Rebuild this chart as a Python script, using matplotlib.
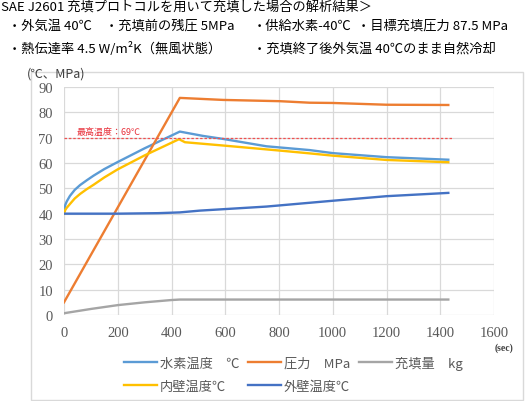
import matplotlib
import matplotlib.pyplot as plt
from matplotlib.patches import Rectangle

matplotlib.use("Agg")

JP = ["Noto Sans CJK JP", "DejaVu Sans"]
SERIF = ["Liberation Serif", "DejaVu Serif"]

# hydrogen gas temperature (degC)
t_h2 = [0, 5, 10, 22, 40, 60, 85, 110, 150, 200, 300, 431, 517, 592, 753, 914, 1000, 1200, 1430]
h2_temp = [41.0, 43.5, 44.8, 47.0, 49.4, 51.3, 53.2, 55.0, 57.6, 60.4, 65.8, 72.4, 70.7, 69.5, 66.6, 65.1, 63.9, 62.3, 61.3]

# pressure (MPa)
t_pres = [0, 431, 592, 803, 914, 1000, 1200, 1430]
pressure = [5.0, 85.7, 84.9, 84.4, 83.8, 83.7, 83.0, 82.9]

# filled amount (kg)
t_fill = [0, 101, 200, 300, 399, 431, 1430]
filled = [0.7, 2.4, 3.9, 5.0, 5.9, 6.1, 6.1]

# inner wall temperature (degC)
t_inner = [0, 5, 10, 22, 40, 60, 85, 110, 150, 200, 300, 428, 450, 592, 803, 914, 1000, 1200, 1430]
inner_wall = [40.0, 41.5, 42.3, 43.8, 46.0, 47.8, 49.7, 51.4, 54.3, 57.5, 63.0, 69.4, 68.2, 66.9, 64.9, 63.8, 62.9, 61.2, 60.3]

# outer wall temperature (degC)
t_outer = [0, 200, 350, 431, 505, 753, 1000, 1200, 1430]
outer_wall = [40.0, 40.0, 40.2, 40.5, 41.2, 42.8, 45.1, 46.9, 48.2]

max_temp = 69.8
max_temp_label = "最高温度：69℃"

fig = plt.figure(figsize=(5.3, 4.02), dpi=100)

# chart frame
fig.patches.append(Rectangle((31 / 530, 1 / 402), 492 / 530, 328 / 402, transform=fig.transFigure,
                             fill=False, edgecolor="#D9D9D9", linewidth=1.0))

ax = fig.add_axes([64 / 530, 1 - 316 / 402, 430 / 530, 228 / 402])

l1, = ax.plot(t_h2, h2_temp, color="#5B9BD5", lw=1.7, label="水素温度　℃")
l2, = ax.plot(t_pres, pressure, color="#ED7D31", lw=1.7, label="圧力　MPa")
l3, = ax.plot(t_fill, filled, color="#A5A5A5", lw=1.7, label="充填量　kg")
l4, = ax.plot(t_inner, inner_wall, color="#FFC000", lw=1.7, label="内壁温度℃")
l5, = ax.plot(t_outer, outer_wall, color="#4472C4", lw=1.7, label="外壁温度℃")

ax.plot([0, 1445], [max_temp, max_temp], color="#F05050", lw=0.9, ls=(0, (2, 1.5)))
ax.text(48, max_temp + 2.6, max_temp_label, color="#E8323C", fontsize=6.5, family=JP, va="center")

ax.set_xlim(0, 1600)
ax.set_ylim(0, 90)
ax.set_xticks(range(0, 1601, 200))
ax.set_yticks(range(0, 91, 10))
ax.grid(True, color="#D9D9D9", lw=0.9)
ax.set_axisbelow(True)
for s in ax.spines.values():
    s.set_visible(False)
ax.tick_params(length=0, pad=8, labelsize=10.5, labelcolor="#595959")
for lab in ax.get_xticklabels() + ax.get_yticklabels():
    lab.set_family(SERIF)

fig.text(27 / 530, 1 - 74 / 402, "(℃、MPa)", fontsize=9, family=JP, color="#404040", va="center")
fig.text(504 / 530, 1 - 348 / 402, "(sec)", fontsize=7, family=SERIF, color="#404040",
         va="center", ha="center", fontweight="bold")

fig.legend([l1, l4, l2, l5, l3], [l.get_label() for l in (l1, l4, l2, l5, l3)], ncol=3,
           loc="upper left", bbox_to_anchor=(112 / 530, 1 - 345 / 402), frameon=False,
           prop={"family": JP, "size": 9.5}, labelcolor="#595959", handlelength=2.5,
           handletextpad=0.2, columnspacing=0.7, labelspacing=0.75)

# header text above the chart
fig.text(1 / 530, 1 - 8 / 402, "SAE J2601 充填プロトコルを用いて充填した場合の解析結果＞",
         fontsize=9.5, family=JP, va="center")
row2 = [(8, "・外気温 40℃"), (105, "・充填前の残圧 5MPa"), (253, "・供給水素-40℃"), (357, "・目標充填圧力 87.5 MPa")]
for x, s in row2:
    fig.text(x / 530, 1 - 26 / 402, s, fontsize=9.5, family=JP, va="center")
row3 = [(8, "・熱伝達率 4.5 W/m²K（無風状態）"), (253, "・充填終了後外気温 40℃のまま自然冷却")]
for x, s in row3:
    fig.text(x / 530, 1 - 49 / 402, s, fontsize=9.5, family=JP, va="center")

plt.savefig("out.png", dpi=100)
